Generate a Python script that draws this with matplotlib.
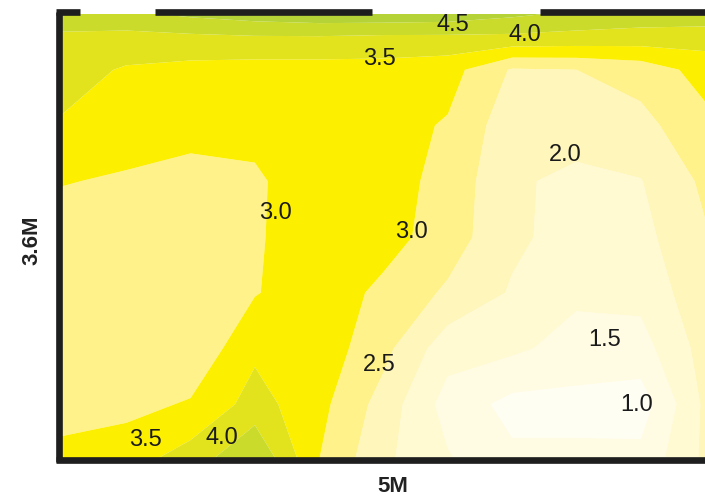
import numpy as np
import matplotlib
matplotlib.use("Agg")
import matplotlib.pyplot as plt
from matplotlib.colors import ListedColormap, BoundaryNorm

plt.rcParams['font.family'] = ['Liberation Sans', 'DejaVu Sans']

# room grid (metres)
x_m = [0, 0.5, 1.0, 1.5, 2.0, 2.5, 3.0, 3.5, 4.0, 4.5, 5.0]
y_m = [0, 0.45, 0.9, 1.35, 1.8, 2.25, 2.7, 3.15, 3.4, 3.6]

# values, rows bottom (y=0) to top (y=3.6)
row_000 = [3.15, 3.30, 3.75, 4.50, 3.00, 2.10, 1.55, 1.10, 1.10, 1.15, 2.10]
row_045 = [2.80, 2.85, 3.05, 3.70, 3.15, 2.30, 1.30, 0.85, 0.85, 0.75, 2.10]
row_090 = [2.70, 2.70, 2.60, 3.40, 3.30, 2.65, 1.70, 1.60, 1.30, 1.30, 2.20]
row_135 = [2.70, 2.65, 2.75, 2.97, 3.30, 2.88, 2.42, 1.95, 1.60, 1.65, 2.35]
row_180 = [2.80, 2.75, 2.80, 2.95, 3.25, 3.20, 2.75, 2.10, 1.80, 1.85, 2.45]
row_225 = [3.02, 2.95, 2.85, 2.95, 3.20, 3.20, 2.85, 2.05, 1.92, 1.98, 2.60]
row_270 = [3.45, 3.20, 3.15, 3.10, 3.20, 3.20, 2.95, 2.20, 2.15, 2.35, 2.85]
row_315 = [3.70, 3.45, 3.35, 3.30, 3.30, 3.30, 3.20, 2.45, 2.50, 2.70, 3.20]
row_340 = [3.90, 3.80, 3.85, 3.90, 3.90, 3.85, 3.85, 3.85, 3.80, 3.75, 3.70]
row_360 = [4.25, 4.40, 4.60, 4.75, 4.85, 4.85, 4.80, 4.60, 4.40, 4.30, 4.30]

levels = [0.0, 1.0, 1.5, 2.0, 2.5, 3.0, 3.5, 4.0, 4.5, 6.0]
band_colors = ['#fffef3', '#fffce3', '#fffad2', '#fff6bc', '#fff28a',
               '#fdef00', '#e2e31c', '#cadb2b', '#b5d336']

# contour labels: level value and anchor point (metres)
label_levels = [4.5, 4.0, 3.5, 2.0, 3.0, 3.0, 1.5, 1.0, 2.5, 3.5, 4.0]
label_points = [(3.04, 3.51), (3.60, 3.43), (2.47, 3.24), (3.91, 2.46),
                (1.66, 1.99), (2.72, 1.84), (4.22, 0.97), (4.47, 0.44),
                (2.47, 0.77), (0.65, 0.16), (1.24, 0.18)]

# walls (metres)
top_wall_segments = [(-0.05, 0.14), (0.72, 2.41), (3.72, 5.1)]
room_w, room_h = 5.0, 3.6

Z = np.array([row_000, row_045, row_090, row_135, row_180,
              row_225, row_270, row_315, row_340, row_360])
X, Y = np.meshgrid(x_m, y_m)

fig = plt.figure(figsize=(7.05, 4.97), dpi=100)
ax = fig.add_axes([62 / 705, 37 / 497, 643 / 705, 446 / 497])

cmap = ListedColormap(band_colors)
norm = BoundaryNorm(levels, cmap.N)
ax.contourf(X, Y, Z, levels=levels, cmap=cmap, norm=norm, antialiased=True)

for lev, (lx, ly) in zip(label_levels, label_points):
    ax.text(lx, ly, f'{lev:.1f}', ha='center', va='center', fontsize=17,
            color='#1a1a1a')

ax.set_xlim(0, room_w)
ax.set_ylim(0, room_h)
ax.set_axis_off()

wall_kw = dict(color='#1e1e1e', lw=4.8, solid_capstyle='butt', clip_on=False)
ax.plot([-0.025, -0.025], [-0.02, room_h + 0.02], **wall_kw)
ax.plot([-0.045, room_w + 0.1], [0.0, 0.0], **wall_kw)
for a, b in top_wall_segments:
    ax.plot([a, b], [room_h + 0.02, room_h + 0.02], **wall_kw)

fig.text(393 / 705, 1 - 486 / 497, '5M', ha='center', va='center',
         fontsize=16, fontweight='bold', color='#222222')
fig.text(32 / 705, 1 - 240 / 497, '3.6M', ha='center', va='center',
         rotation=90, fontsize=16, fontweight='bold', color='#222222')

fig.savefig('out.png', dpi=100)
